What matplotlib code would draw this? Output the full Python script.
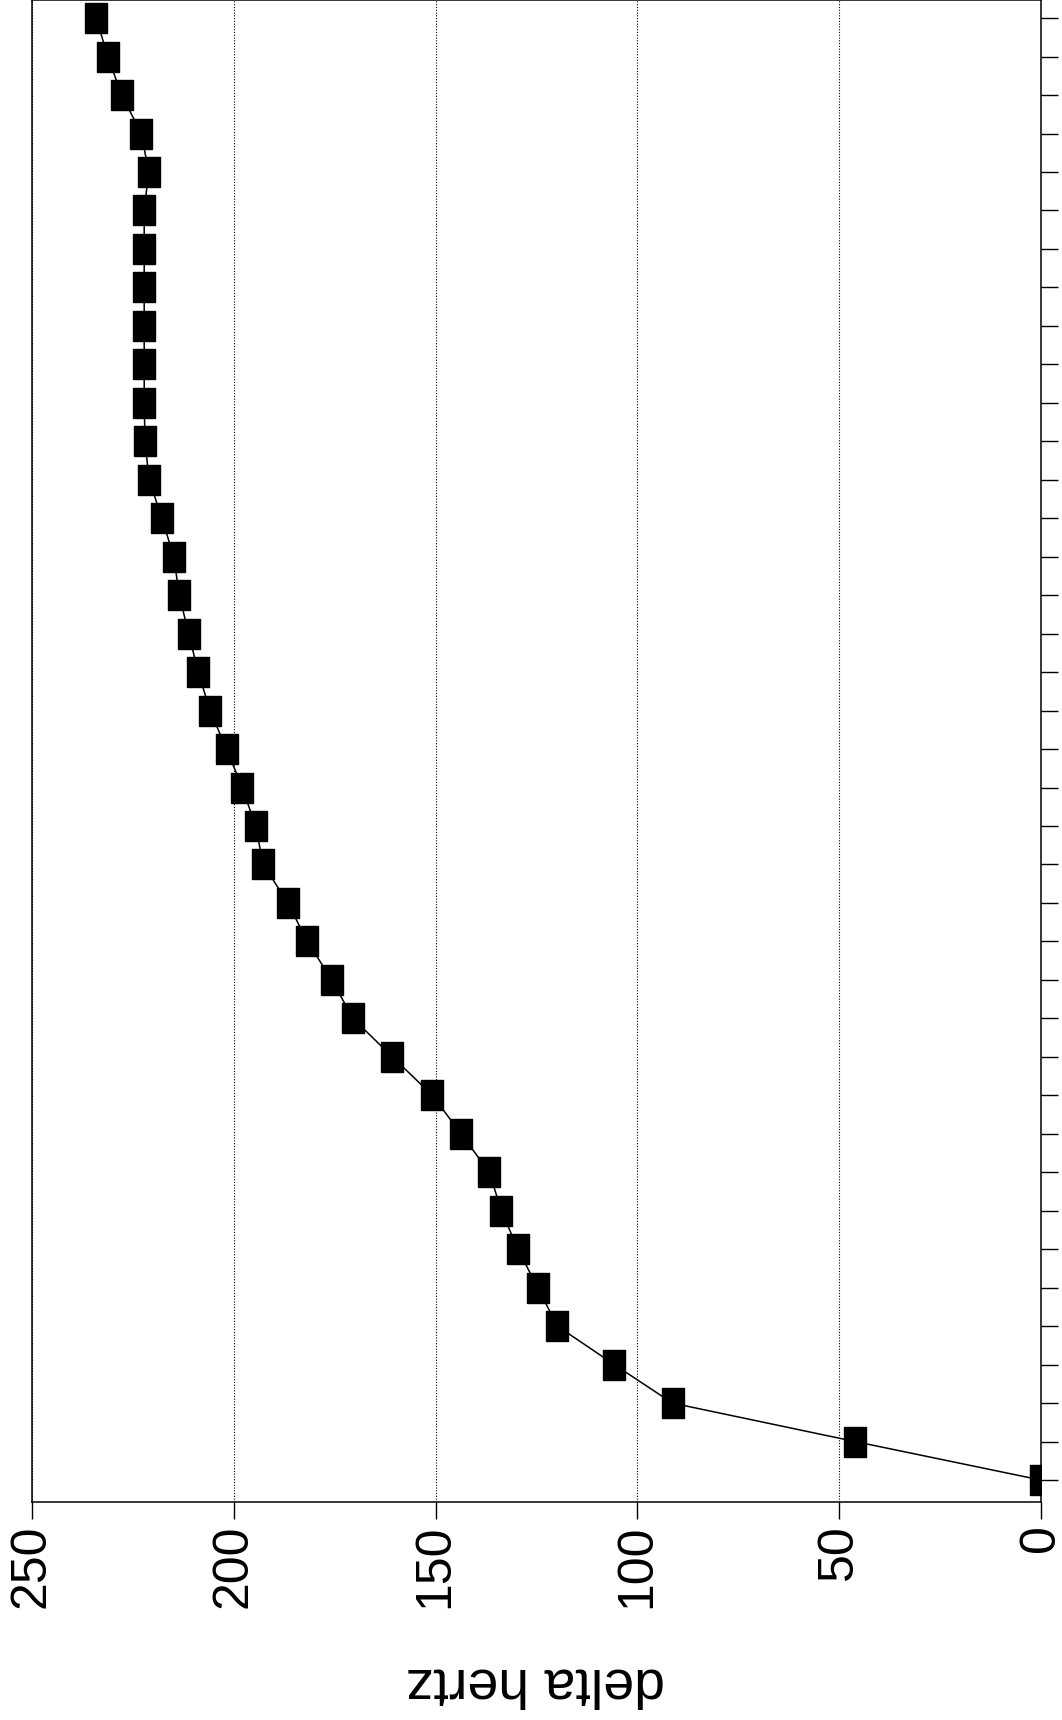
import matplotlib
matplotlib.use("Agg")
import matplotlib.pyplot as plt

# chart is a scanned landscape plot turned on its side:
# the value axis (delta hertz) runs along the bottom, the step axis up the right edge
steps = list(range(1, 40))
delta_hz = [0, 46.0, 91.3, 105.7, 119.8, 124.7, 129.6, 133.7, 136.7, 143.7,
            150.8, 160.7, 170.5, 175.7, 181.8, 186.6, 192.7, 194.6, 197.9, 201.8,
            205.9, 208.8, 211.2, 213.5, 214.9, 217.8, 221.0, 222.0, 222.2, 222.2,
            222.2, 222.2, 222.2, 222.2, 221.1, 222.9, 227.8, 231.2, 234.1]
hz_ticks = [0, 50, 100, 150, 200, 250]
hz_label = "delta hertz"

plt.rcParams['font.family'] = ['Liberation Sans', 'DejaVu Sans']

W, H = 1062, 1720
fig = plt.figure(figsize=(W / 100, H / 100), dpi=100)
ax = fig.add_axes([32 / W, (H - 1502) / H, (1041 - 32) / W, 1502 / H])

box = [(-0.38, -0.5), (0.38, -0.5), (0.38, 0.5), (-0.38, 0.5), (-0.38, -0.5)]
ax.plot(delta_hz, steps, color='black', lw=1.1, marker=box, markersize=20.9,
        markerfacecolor='black', markeredgecolor='black', zorder=3)

ax.set_xlim(250, 0)
ax.set_ylim(0.43, 39.47)

ax.set_xticks(hz_ticks)
ax.set_xticklabels([str(t) for t in hz_ticks], rotation=90, fontsize=36)
ax.tick_params(axis='x', direction='out', length=12.2, width=1.0, pad=4)

ax.yaxis.tick_right()
ax.set_yticks(steps)
ax.set_yticklabels([])
ax.tick_params(axis='y', direction='out', length=12.5, width=1.0)

ax.xaxis.grid(True, linestyle=(0, (1, 1.5)), color='black', lw=0.8)
ax.set_axisbelow(True)

for s in ax.spines.values():
    s.set_linewidth(1.1)

fig.text(535 / W, 1 - 1683 / H, hz_label, rotation=180, ha='center', va='center',
         fontsize=40)

fig.savefig("out.png", dpi=100)
